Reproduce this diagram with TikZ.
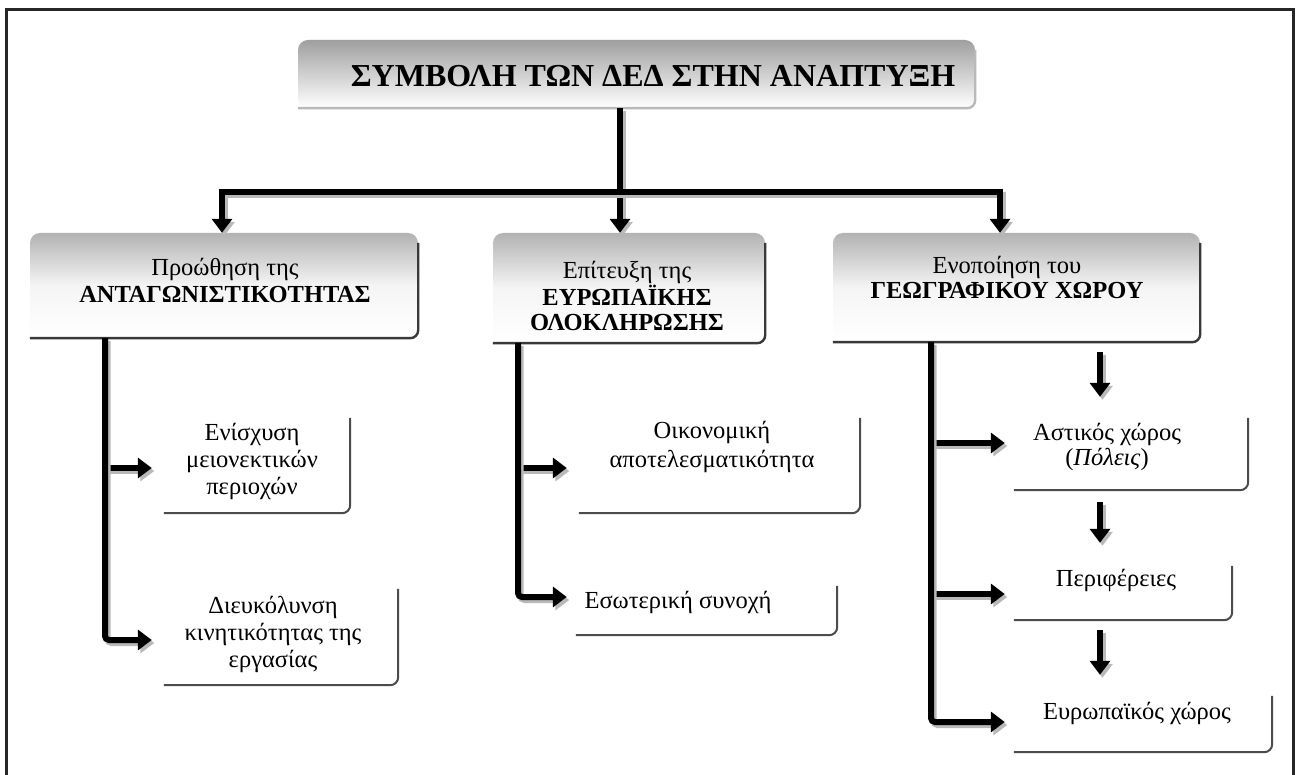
\documentclass[tikz,border=0pt]{standalone}
\usepackage{fontspec}
\setmainfont{Liberation Serif}
\usetikzlibrary{arrows.meta}
\tikzset{
  mainbox/.style={rectangle, rounded corners=10pt, top color=gray!60, bottom color=white, middle color=gray!8, inner sep=0pt},
  edge/.style={draw=gray!45!black, line width=2.4pt, rounded corners=8pt},
  subedge/.style={draw=gray!60!black, line width=2pt, rounded corners=8pt},
  subbox/.style={rectangle, inner sep=0pt},
  txt/.style={align=center, font=\fontsize{24.5}{27}\selectfont, inner sep=0pt},
  titletxt/.style={font=\fontsize{32}{36}\selectfont\bfseries, inner sep=0pt},
  fat/.style={line width=6pt, black, -{Triangle[length=14pt,width=20pt]}},
  fatsh/.style={fat, draw=gray!55, transform canvas={shift={(2.5pt,-3pt)}}},
  frame/.style={line width=3pt, black!85},
}
\newcommand\fatdraw[2][]{\draw[fatsh,#1] #2; \draw[fat,#1] #2;}
\begin{document}
\begin{tikzpicture}[x=1pt,y=-1pt]
\useasboundingbox (0,0) rectangle (1299,775);
\fill[white] (0,0) rectangle (1299,775);
\draw[frame] (6,775) -- (6,10) -- (1293,10) -- (1293,775);

% title
\node[mainbox, top color=gray!75, minimum width=677pt, minimum height=68pt] (T) at (636.5,74) {};
\draw[edge, draw=gray!55] ([yshift=-10pt]T.north east) -- (T.south east) -- (T.south west);
\node[titletxt] (Tt) at (653,76) {ΣΥΜΒΟΛΗ ΤΩΝ ΔΕΔ ΣΤΗΝ ΑΝΑΠΤΥΞΗ};

% main boxes
\node[mainbox, minimum width=388pt, minimum height=105pt] (A) at (224,285.5) {};
\node[mainbox, minimum width=272pt, minimum height=110pt] (B) at (629,288) {};
\node[mainbox, minimum width=367pt, minimum height=109pt] (C) at (1016.5,287.5) {};
\foreach \b in {A,B,C}{
  \draw[edge] ([yshift=-10pt]\b.north east) -- (\b.south east) -- (\b.south west);
}
\node[txt] (At) at (225,280.5) {Προώθηση της\\\textbf{ΑΝΤΑΓΩΝΙΣΤΙΚΟΤΗΤΑΣ}};
\node[txt, font=\fontsize{24.5}{24.5}\selectfont] (Bt) at (627,296) {Επίτευξη της\\\textbf{ΕΥΡΩΠΑΪΚΗΣ}\\\textbf{ΟΛΟΚΛΗΡΩΣΗΣ}};
\node[txt, font=\fontsize{24.5}{25}\selectfont] (Ct) at (1007,277) {Ενοποίηση του\\\textbf{ΓΕΩΓΡΑΦΙΚΟΥ ΧΩΡΟΥ}};

% sub boxes
\node[subbox, minimum width=190pt, minimum height=101pt] (a1) at (255,462.5) {};
\node[subbox, minimum width=238pt, minimum height=102pt] (a2) at (279,634) {};
\node[subbox, minimum width=285pt, minimum height=101pt] (b1) at (717.5,462.5) {};
\node[subbox, minimum width=265pt, minimum height=55pt] (b2) at (704.5,607.5) {};
\node[subbox, minimum width=238pt, minimum height=78pt] (c1) at (1129,451) {};
\node[subbox, minimum width=222pt, minimum height=60pt] (c2) at (1121,590) {};
\node[subbox, minimum width=262pt, minimum height=62pt] (c3) at (1141,721) {};
\foreach \b in {a1,a2,b1,b2,c1,c2,c3}{
  \draw[subedge] ([yshift=-6pt]\b.north east) -- (\b.south east) -- ([xshift=4pt]\b.south west);
}
\node[txt, font=\fontsize{24.5}{27}\selectfont] (a1t) at (252,461) {Ενίσχυση\\μειονεκτικών\\περιοχών};
\node[txt, font=\fontsize{24.5}{27}\selectfont] (a2t) at (273,634) {Διευκόλυνση\\κινητικότητας της\\εργασίας};
\node[txt, font=\fontsize{24.5}{28.5}\selectfont] (b1t) at (712,447) {Οικονομική\\αποτελεσματικότητα};
\node[txt] (b2t) at (678,602) {Εσωτερική συνοχή};
\node[txt, font=\fontsize{24.5}{25}\selectfont] (c1t) at (1107,447) {Αστικός χώρος\\(\textit{Πόλεις})};
\node[txt] (c2t) at (1116,580) {Περιφέρειες};
\node[txt] (c3t) at (1137,713) {Ευρωπαϊκός χώρος};

% top connectors
\coordinate (bar) at (620,192);
\fatdraw{([xshift=-16.5pt]T.south) -- ([xshift=-9pt]B.north)}
\fatdraw{(bar) -| ([xshift=-2pt]A.north)}
\fatdraw{(bar) -| ([xshift=-16.5pt]C.north)}

% trunk A
\coordinate (ta) at (105,338);
\coordinate (a1in) at ([xshift=-8pt,yshift=-5.5pt]a1.west);
\coordinate (a2in) at ([xshift=-8pt,yshift=-6pt]a2.west);
\fatdraw{(ta |- a1in) -- (a1in)}
\fatdraw[rounded corners=4pt]{(ta) |- (a2in)}

% trunk B
\coordinate (tb) at (518,343);
\coordinate (b1in) at ([xshift=-8pt,yshift=-5.5pt]b1.west);
\coordinate (b2in) at ([xshift=-5pt,yshift=10.5pt]b2.west);
\fatdraw{(tb |- b1in) -- (b1in)}
\fatdraw[rounded corners=4pt]{(tb) |- (b2in)}

% trunk C
\coordinate (tc) at (931,342);
\coordinate (c1in) at ([xshift=-5pt,yshift=8pt]c1.west);
\coordinate (c2in) at ([xshift=-5pt,yshift=-4pt]c2.west);
\coordinate (c3in) at ([xshift=-5pt,yshift=-1pt]c3.west);
\fatdraw{(tc |- c1in) -- (c1in)}
\fatdraw{(tc |- c2in) -- (c2in)}
\fatdraw[rounded corners=4pt]{(tc) |- (c3in)}

% down arrows
\coordinate (x1) at ([xshift=-29pt]c1.north);
\fatdraw[shorten <=10pt, shorten >=15pt]{(x1 |- C.south) -- (x1 |- c1.north)}
\fatdraw[shorten <=12pt, shorten >=17pt]{(x1 |- c1.south) -- (x1 |- c2.north)}
\fatdraw[shorten <=10pt, shorten >=15pt]{(x1 |- c2.south) -- (x1 |- c3.north)}
\end{tikzpicture}
\end{document}
